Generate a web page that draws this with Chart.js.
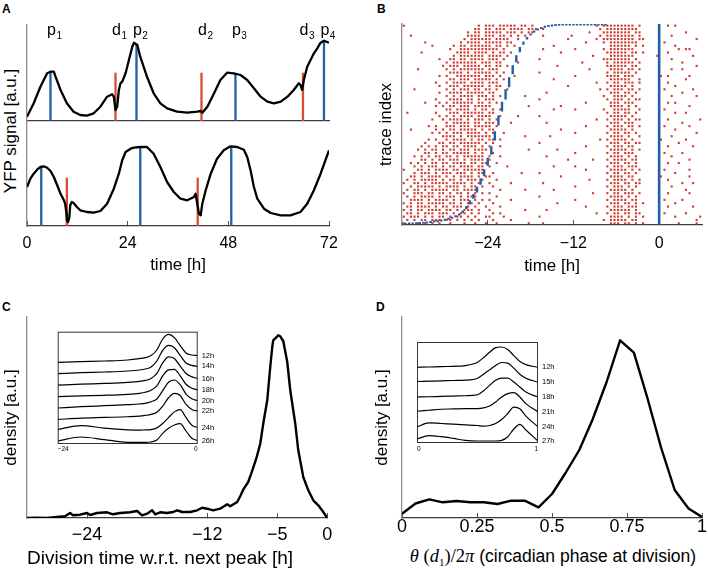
<!DOCTYPE html>
<html><head><meta charset="utf-8">
<script src="https://cdn.jsdelivr.net/npm/chart.js@4/dist/chart.umd.min.js"></script>
<style>
body{margin:0;background:#fff;width:708px;height:570px;position:relative;overflow:hidden;font-family:"Liberation Sans",Arial,sans-serif;color:#000;}
canvas{position:absolute;}
.pl{position:absolute;font-weight:bold;font-size:12px;line-height:12px;}
.vt{position:absolute;white-space:nowrap;font-size:17px;transform:translate(-50%,-50%) rotate(-90deg);}
</style></head><body>
<div class="pl" style="left:2px;top:3px">A</div>
<div class="pl" style="left:377px;top:3px">B</div>
<div class="pl" style="left:2px;top:301px">C</div>
<div class="pl" style="left:376px;top:301px">D</div>
<div class="vt" style="left:11px;top:131px">YFP signal [a.u.]</div>
<div style="position:absolute;left:553px;top:557px;transform:translate(-50%,-50%);font-size:17.5px;white-space:nowrap;"><span style="font-family:'Liberation Serif',serif;font-size:18.5px"><i>θ</i> (<i>d</i><sub style="font-size:11px">1</sub>)/2<i>π</i></span> (circadian phase at division)</div>
<script>
// ---------------- Panel A data ----------------
const aTime1 = [0,1.6,3.2,4.8,5.6,6.4,6.8,8.0,9.5,11.1,12.7,14.3,15.9,17.5,19.1,20.3,20.7,21.1,21.5,21.9,22.3,22.7,23.5,24.3,25.1,25.5,26.3,27.0,28.6,30.2,31.8,33.4,35.8,38.2,40.6,41.4,41.8,43.0,44.6,46.1,47.7,49.3,50.9,52.5,54.1,55.7,57.3,58.9,60.5,62.1,63.6,64.8,65.2,65.6,66.0,66.8,67.6,68.4,69.2,70.0,70.8,72];
const aYfp1 = [4.3,17.7,34.3,47.7,49.3,49.3,44.3,31,17.7,9.3,6,5.3,7.7,14.3,24.3,26.7,24.3,11,14.3,31,37.7,39.3,47.7,61,74.3,78.3,76,64.3,44.3,27.7,17.7,12.7,9.3,8.3,9.3,10,8.3,14.3,27.7,41,48.3,47.7,46,41,32.7,24.3,19.3,17.7,19.3,24.3,31,37.7,36,31,41,54.3,61,67.7,72.7,78.3,80.3,78.3];
const aTime2 = [0,0.8,1.6,2.4,3.2,4.0,4.8,5.6,6.4,7.2,8.0,8.8,9.1,9.4,9.5,9.8,10.1,10.3,10.7,11.1,11.9,12.7,14.3,15.9,17.5,19.1,20.7,21.9,22.7,23.5,24.7,25.5,27.0,28.6,30.2,31.8,33.4,35.0,36.6,38.2,39.8,40.2,40.6,41.0,41.4,41.8,42.6,43.8,45.3,46.9,48.5,50.1,51.7,52.5,53.3,54.1,54.9,56.5,58.1,60.5,62.8,65.2,66.8,68.4,70.0,72];
const aYfp2 = [39,47.3,52.3,56.3,59,59.7,58.3,55,49,40.7,32.3,25.7,22.3,12.3,5.7,4,9,20.7,24,23,19,15.7,14,13.3,15,22.3,37.3,52.3,65.7,74,77.3,78.3,79,79,72.3,59,44,34,27.3,25.7,29,32.3,22.3,12.3,10.7,22.3,35.7,52.3,67.3,75.7,79.7,79,76.3,69,55.7,39,27.3,17.3,13,10.7,10.7,14,22.3,35.7,52.3,75.7];
const aPeakT1 = [5.6, 26.1, 49.7, 70.8];
const aPeakV1 = [49.3, 77, 47.7, 80.3];
const aDivT1 = [21.1, 41.6, 65.8];
const aDivH1 = [48.3, 48.3, 48.3];
const aPeakT2 = [3.4, 27.0, 48.7];
const aPeakV2 = [59.3, 79, 79.7];
const aDivT2 = [9.5, 40.7];
const aDivH2 = [48.3, 48.3];
const aLabelName = ['p','d','p','d','p','d','p'];
const aLabelSub = ['1','1','2','2','3','3','4'];
const aLabelT = [5.6, 21.1, 26.1, 41.6, 49.7, 65.8, 70.8];
const aTicks = [0, 24, 48, 72];

// ---------------- Panel B data ----------------
const bTicks = [-24, -12, 0];
const bBlueT = [-36,-35.5,-35,-34.5,-34,-33.5,-33,-32.5,-32,-31.5,-31,-30.5,-30,-29.5,-29,-28.5,-28,-27.5,-27,-26.5,-26,-25.5,-25,-24.5,-24,-23.5,-23,-22.5,-22,-21.5,-21,-20.5,-20,-19.5,-19,-18.5,-18,-17.5,-17,-16.5,-16,-15.5,-15,-14.5,-14,-13.5,-13,-12.5,-12,-11.5,-11,-10.5,-10,-9.5,-9,-8.5,-8,-7.5];
const bBlueLo = [0.1,0.1,0.2,0.3,0.4,0.5,0.6,0.8,1.0,1.2,1.4,1.7,2.1,2.6,3.1,3.9,4.7,6.0,7.9,10.3,13,16.2,20,24.3,29.5,35,42,49.5,56.5,62.5,68.5,75,81,86,89.7,92.3,94.3,95.8,96.8,97.5,98.1,98.5,98.8,99,99.1,99.2,99.2,99.3,99.3,99.3,99.3,99.3,99.3,99.3,99.3,99.3,99.3,99.3];
const bBlueHi = [1.1,1.1,1.2,1.3,1.4,1.5,1.6,1.8,2.0,2.2,2.4,2.7,3.1,3.6,4.1,4.9,5.7,7.2,9.5,12.3,15.4,19,23.2,27.7,33.5,39.2,46.6,54.5,61.3,67.5,73.5,79.5,84.5,88.5,91.3,93.5,95.3,96.8,97.8,98.5,99.1,99.5,99.8,100,100,100,100,100,100,100,100,100,100,100,100,100,100,100];
// division events per trace row (top row first); 7 segments of 12 half-hour columns from -36 h
const bDivRows = [
"#...........|.........#.#|##.#####.##.|#...........|......#.####|#####.#.....|..#.#.......",
"............|........##.#|#.###.####.#|##.#........|.......#.###|######......|............",
"............|......#.##.#|####.###.#.#|#...........|....#...####|####.##.....|.......#....",
"..#.........|......####.#|##.##.#.#.#.|...#.......#|.......#.###|#####.#.....|...#........",
"............|.....#.#####|#.####..#...|..........#.|......#.####|#####.##....|..........#.",
"......#.....|....#.####.#|####.##.....|............|...#....#.##|######......|.#..........",
"........#...|..#.##.#####|#.##.#.#....|......#.....|..........##|####.#.#....|....#.......",
"............|.#..########|###.#.......|...#........|#.......#.##|#####.......|.....#.##...",
".....#......|...####.####|.#.##.#.....|........#...|.........###|###.##.#....|..#.........",
"............|..#.#######.|####.#......|............|.....#....##|#####......#|.........#..",
"..........#.|.##.##.####.|###.#.......|..#.........|........####|####.#......|...#........",
"............|#.#######.##|#.##....#...|............|..#......#.#|#####.#.....|......#.....",
"...........#|.###.#####.#|#.##.#......|.......#....|.........###|###.##......|..........#.",
"....#.......|#.#.#######.|###.........|............|....#.....##|##.##.#.....|...#..#.....",
"............|.####.#.####|#.#.#.......|..#.........|.........#.#|####.#......|............",
"..........#.|#..#######.#|##.#...#....|............|#........###|#.###.......|#.#.....#...",
"............|.##.###.####|#.#.#.......|......#.....|..........##|####..#.....|.......#....",
".........#..|#.####.####.|###.........|............|......#..#.#|#.###.#.....|..#.........",
"..........#.|.###.######.|#.##........|..........#.|..........##|###.#.......|....#.......",
"...#........|#.#.###.##.#|#.#..#......|............|.......#.#.#|##.##.#.....|.#.......#..",
"..........#.|.####.#####.|##..........|....#.......|..........##|#.##.#......|......#.....",
"............|#.#.####.###|.#.#......#.|............|........#..#|###.#.......|...#......#.",
".........#..|.####.##.#.#|##..........|..#.........|.........#.#|##.#.##.....|............",
"......#...#.|#.######.##.|#.#.........|............|...#......##|#.###.......|..#.#.......",
".........#.#|.##.###.####|#..........#|........#...|..........##|##.#.#......|........#...",
"............|##.####.#.##|.#.#........|......#.....|#.......#..#|####..#.....|.#..........",
".#.......#..|.###.######.|##..........|............|.........#.#|#.##.#......|....#..#....",
"..........#.|#.#.####.###|#..#....#...|..#.........|..........##|###.#.......|............",
"........#..#|.####.#.###.|#.#.........|............|......#..#.#|##.#.##.....|..#........#",
"............|#.#####.##.#|##....#.....|....#.......|..........##|#.###.......|......#.....",
".......#.#..|###.###.####|#.#.........|............|...#.....#.#|##.##.#.....|.#......#...",
"..#......#.#|.##.#####.#.|##..........|........#...|..........##|###.#.......|....#.......",
"........#.#.|#.###.####.#|.#..#.......|............|#........#.#|#.##.#......|..........#.",
"...........#|###.#.######|#.........#.|.....#......|..........##|##.#..#.....|...#........",
".......#.#..|#.####.#.##.|##.#........|............|.......#.#.#|###.#.......|#......#....",
"......#...##|.##.######.#|.#..........|..#.........|..........##|#.##.##.....|.....#......",
".....#.#.#.#|#.##.####.#.|#..#........|............|...#.....#.#|##.##.......|..#......#..",
"....#.#.##.#|.##.###.####|...........#|.......#....|..........##|###.#.#.....|............",
"......##.#.#|#.#####.#.#.|.#..........|............|#........#.#|#.###.......|.#....#.....",
"...#.#.#.##.|##.#.######.|#..#........|....#.......|..........##|##.#.#......|...#........",
".....##.#.##|.###.#.####.|#...........|..........#.|.....#...#.#|###.##......|........#...",
"..#.#.#.##.#|#.####.##.##|..#.........|............|..........##|#.##.#......|..#..#......",
"...#.#.###.#|.##.####.##.|#....#......|......#.....|#........#.#|##.###......|............",
"#...##.#.###|#.##.######.|............|............|...#......##|###.#.#.....|.#......#...",
"...#.###.#.#|##.###.#.##.|.#.......#..|..#.........|.........#.#|#.##.#......|....#.......",
"..##.#.####.|#.#.####.#.#|#...........|........#...|..........##|##.##.......|#.......#...",
".#.#.#####.#|.##.#.###.#.|..#.........|............|....#....#.#|###.#.#.....|..#.........",
"#..##.#.####|#.####.#.#..|#.....#.....|...#........|..........##|#.##.##.....|......#..#..",
"..#.#####.#.|####.#.##.#.|.#..........|............|#........#.#|##.#.#......|...#........",
".#.##.#.####|#.##.####...|...#......#.|......#.....|..........##|###.#.......|.......#....",
"#..###.##.##|.#.##.#.#.#.|#...........|............|.....#...#.#|#.###.#.....|..#.....#...",
".#.#.####.#.|###.#.###...|..#.........|..#.........|..........##|##.#.#......|............",
"..####.#.###|#.#.###.#.#.|#.....#.....|............|#........#.#|###.##......|.#....#.....",
"#.#.##.#####|.##.#.##.#..|.#..........|.......#....|..........##|#.##.#.#....|....#.......",
".##.####.#.#|#.###.#.#..#|...#........|............|...#.....#.#|##.###......|..#......#..",
"#.#.##.####.|##.#.###.#..|#.........#.|....#.......|..........##|####.#......|............",
".##.#.###.##|#.#.##.#.#..|.#.#........|............|......#..#.#|#.##.##.....|.#.....#....",
"#.###.#.#.##|.#.##.#.#..#|#...#.......|..#.........|..........##|##.#.#.#....|....#......#",
".#.#.##.###.|##.#.#.#.#..|.#....#.....|............|........#.##|###.##......|..........#.",
"#...#.#.#.#.|.#...#..#..#|..#........#|...#........|..........##|#.##.#.#....|.....#....#."
];

// ---------------- Panel C data ----------------
const cTicks = [-24, -12, -5, 0];
const cT = [-30,-29,-28,-27,-26.2,-25.7,-25.4,-24.7,-24,-23.7,-23,-22,-21.4,-20.7,-19.7,-19,-18.5,-18,-17.5,-17.2,-16.7,-16,-15.4,-15,-14.5,-13.7,-13,-12.5,-12,-11.4,-10.7,-10,-9.7,-9,-8.7,-8.4,-7.9,-7.6,-7.1,-6.7,-6.4,-6,-5.7,-5.5,-5.4,-4.9,-4.7,-4.4,-4,-3.7,-3.2,-2.9,-2.4,-1.9,-1.4,-0.9,-0.4,0];
const cDensity = [0,0.3,0,1,1.7,5,2.7,3.3,5,3,5,5.7,3.7,5,5.7,7,2.7,4.3,7.7,3.7,5.7,5,6,7.7,6,6,7.7,10.3,9.3,7.7,9.3,13.7,11.7,16,21.7,28.3,36,44.3,59.3,74.3,94.3,117.7,151,171,177.7,182.7,181.7,177,156,127.7,94.3,67.7,41,27.7,17.7,12.7,6,0];
const cInsetT = [-24,-20,-16,-12,-10,-9,-8,-7,-6,-5,-4,-3,-2,-1,0];
const cInsetLabels = ['12h','14h','16h','18h','20h','22h','24h','26h'];
const cIn12 = [0,0.7,1.3,2.3,3.7,4.7,6.7,12.3,23.3,28,24.7,16.7,9.3,7.3,6.7];
const cIn14 = [0,1,1.7,2.7,3.7,4.7,6.7,12.7,23.3,28.3,26,18.3,10.7,8.3,7.3];
const cIn16 = [0,1,1.7,2.7,3.7,4.7,6.7,11.7,22.3,28.3,26.7,19,11.7,8.3,6.7];
const cIn18 = [0,0.7,1.3,2.3,3.3,4.3,6.3,10.7,20.7,26.7,27.3,20.7,12.3,8.3,6.7];
const cIn20 = [0,1.3,2.3,3.3,4,4.7,6.3,9,17.3,25.7,28,23.3,14,9.3,7.3];
const cIn22 = [0,1.3,2,2.7,3.3,4,5,7.3,13.3,21.7,26,24,15,10,8.3];
const cIn24 = [1.3,5.3,2.7,1,0.7,1,1.3,3,7.3,13.3,19,21.3,13.3,5.7,3.3];
const cIn26 = [1.3,5.3,2.7,0,0,0,0.3,2.3,9,14,17.3,18.7,11.3,4,1.7];

// ---------------- Panel D data ----------------
const dTicks = [0, 0.25, 0.5, 0.75, 1];
const dPhase = [0,0.045,0.091,0.136,0.182,0.227,0.273,0.318,0.364,0.409,0.455,0.5,0.545,0.591,0.636,0.682,0.727,0.773,0.818,0.864,0.909,0.955,1];
const dDensity = [4.3,14.5,18.7,15.7,17,15.7,15.7,14,17.3,17.3,10.7,24,45,68,99,136,177.7,165.3,120,70,28,9.5,1];
const dInsetP = [0,0.1,0.2,0.3,0.4,0.5,0.55,0.6,0.65,0.7,0.75,0.8,0.85,0.9,1];
const dInsetLabels = ['12h','15h','18h','21h','24h','27h'];
const dIn12 = [0,0.3,0.7,1,1.7,5,9.7,15,19.7,20.3,17.7,11.7,5.7,2.7,0];
const dIn15 = [0.7,1,1.3,1.7,2,4,8,12.3,16.7,19.7,19,14,8,4,0];
const dIn18 = [0,0.3,0.7,1,1.3,2.3,6.3,11.7,16.7,19,19,15,10,5,0];
const dIn21 = [0.7,1.7,2.7,3,3.3,3.3,4,6,10,15,18.3,19.3,15,8.3,0];
const dIn24 = [0,4,3.3,2.7,2,1.3,0.7,1.3,3.3,7.3,13.3,19.7,18,10.7,0];
const dIn27 = [2.7,6,5,3.3,1.3,0.7,0.7,0.7,0.7,1.3,5,12.7,17.3,11.7,0.7];

// ---------------- helpers ----------------
const FONT = '"Liberation Sans", Arial, sans-serif';
const BLUE = '#1f5ea8', RED = '#dc4a33', DOTRED = '#cf3d30';
Chart.defaults.font.family = FONT;
Chart.defaults.color = '#000';
Chart.defaults.animation = false;
Chart.defaults.responsive = false;
Chart.defaults.devicePixelRatio = 1;
Chart.defaults.plugins.legend.display = false;
Chart.defaults.plugins.tooltip.enabled = false;
Chart.defaults.elements.point.radius = 0;

const zip = (xs, ys) => xs.map((x, i) => ({x, y: ys[i]}));
const fmt = v => v < 0 ? '\u2212' + Math.abs(v) : String(v);

function makeChart(box, area, xh, yw, config) {
  const [cx, cy, cw, ch] = box;
  const cv = document.createElement('canvas');
  cv.width = cw; cv.height = ch;
  Object.assign(cv.style, {left: cx + 'px', top: cy + 'px', width: cw + 'px', height: ch + 'px'});
  document.body.appendChild(cv);
  config.options.layout = {padding: {left: area[0] - cx - yw, top: area[1] - cy, right: cx + cw - area[2], bottom: cy + ch - area[3] - xh}};
  config.options.scales.x.afterFit = s => { s.height = xh; s.paddingLeft = 0; s.paddingRight = 0; };
  config.options.scales.y.afterFit = s => { s.width = yw; s.paddingTop = 0; s.paddingBottom = 0; };
  return new Chart(cv, config);
}
function xAxis(min, max, ticks, tickPad, title, tsize, tickSize, titleAlign) {
  return {
    type: 'linear', min, max,
    afterBuildTicks: s => { s.ticks = ticks.map(v => ({value: v})); },
    ticks: {display: ticks.length > 0, font: {size: tickSize || 16}, padding: tickPad, callback: v => fmt(v), maxRotation: 0, autoSkip: false, color: '#000'},
    grid: {display: ticks.length > 0, drawOnChartArea: false, drawTicks: true, tickLength: -5, color: '#555', lineWidth: 1},
    border: {display: true, color: '#3c3c3c', width: 1.3},
    title: title ? {display: true, text: title, align: titleAlign || 'center', font: {size: tsize || 17}, padding: {top: 0, bottom: 0}, color: '#000'} : {display: false}
  };
}
function yAxis(min, max, title, padTop, tsize) {
  return {
    type: 'linear', min, max,
    ticks: {display: false},
    grid: {display: false},
    border: {display: true, color: '#8c8c8c', width: 1.3},
    title: title ? {display: true, text: title, font: {size: tsize || 17}, padding: {top: padTop, bottom: 0}, color: '#000'} : {display: false}
  };
}
const curve = (xs, ys, w) => ({data: zip(xs, ys), showLine: true, borderColor: '#000', borderWidth: w || 2.3, pointRadius: 0, order: 0, borderJoinStyle: 'round'});
const vline = (t, v, color) => ({data: [{x: t, y: 0}, {x: t, y: v}], showLine: true, borderColor: color, borderWidth: 2.3, pointRadius: 0, order: 1, borderCapStyle: 'butt'});

const eventLabels = {
  id: 'eventLabels',
  afterDatasetsDraw(chart) {
    const ctx = chart.ctx, xs = chart.scales.x;
    ctx.save();
    ctx.fillStyle = '#000'; ctx.textAlign = 'left'; ctx.textBaseline = 'alphabetic';
    aLabelName.forEach((n, i) => {
      const x = xs.getPixelForValue(aLabelT[i]) - 3.5;
      ctx.font = '16px ' + FONT;
      ctx.fillText(n, x, 35);
      const w = ctx.measureText(n).width;
      ctx.font = '10px ' + FONT;
      ctx.fillText(aLabelSub[i], x + w + 0.5, 38.5);
    });
    ctx.restore();
  }
};
const insetFrame = {
  id: 'insetFrame',
  afterDatasetsDraw(chart) {
    const {ctx, chartArea: a} = chart;
    ctx.save();
    ctx.strokeStyle = '#333'; ctx.lineWidth = 1;
    ctx.strokeRect(a.left + 0.5, a.top + 0.5, a.right - a.left - 1, a.bottom - a.top - 1);
    ctx.font = '7.5px ' + FONT; ctx.fillStyle = '#000'; ctx.textBaseline = 'middle'; ctx.textAlign = 'left';
    chart.data.datasets.forEach((ds, i) => {
      const pts = chart.getDatasetMeta(i).data;
      ctx.fillText(ds.label, a.right + 4, pts[pts.length - 1].y);
    });
    ctx.restore();
  }
};
function insetAxis(min, max, ticks, pad) {
  return {
    type: 'linear', min, max,
    afterBuildTicks: s => { s.ticks = ticks.map(v => ({value: v})); },
    ticks: {font: {size: 6.5}, padding: pad, align: 'inner', callback: v => fmt(v), maxRotation: 0, autoSkip: false, color: '#000'},
    grid: {display: false, drawTicks: false},
    border: {display: false}
  };
}
const insetY = (max) => ({type: 'linear', min: 0, max, ticks: {display: false}, grid: {display: false}, border: {display: false}});

// ---------------- Panel A ----------------
makeChart([0, 0, 345, 123], [27, 25, 329, 121], 0, 27, {
  type: 'scatter',
  data: {datasets: [
    curve(aTime1, aYfp1),
    ...aPeakT1.map((t, i) => vline(t, aPeakV1[i], BLUE)),
    ...aDivT1.map((t, i) => vline(t, aDivH1[i], RED))
  ]},
  options: {scales: {x: xAxis(0, 72, [], 0), y: yAxis(0, 96)}},
  plugins: [eventLabels]
});
makeChart([0, 119, 345, 170], [27, 121, 329, 226], 49.2, 27, {
  type: 'scatter',
  data: {datasets: [
    curve(aTime2, aYfp2),
    ...aPeakT2.map((t, i) => vline(t, aPeakV2[i], BLUE)),
    ...aDivT2.map((t, i) => vline(t, aDivH2[i], RED))
  ]},
  options: {scales: {x: xAxis(0, 72, aTicks, 12.7, 'time [h]'), y: yAxis(0, 105)}}
});

// ---------------- Panel B ----------------
const bDots = [];
const nRows = bDivRows.length;
bDivRows.forEach((row, i) => {
  const r = nRows - 1 - i;
  row.split('|').forEach((seg, j) => {
    for (let k = 0; k < seg.length; k++) {
      if (seg[k] === '#') bDots.push({x: -36 + 0.5 * (12 * j + k) + 0.25, y: (r + 0.5) * 100 / nRows});
    }
  });
});
const bBlue = [];
bBlueT.forEach((t, i) => { bBlue.push({x: t, y: bBlueLo[i]}, {x: t, y: bBlueHi[i]}, {x: t, y: null}); });
makeChart([354, 0, 354, 290], [402, 24, 702, 225], 51.9, 48, {
  type: 'scatter',
  data: {datasets: [
    {data: bBlue, showLine: true, spanGaps: false, borderColor: BLUE, borderWidth: 2.4, borderCapStyle: 'butt', pointRadius: 0, order: 0},
    {data: [{x: 0, y: 0}, {x: 0, y: 100}], showLine: true, borderColor: BLUE, borderWidth: 2.6, pointRadius: 0, order: 0},
    {data: bDots, showLine: false, pointStyle: 'rect', pointRadius: 1.5, pointBorderWidth: 0, pointBackgroundColor: DOTRED, backgroundColor: DOTRED, borderWidth: 0, order: 2}
  ]},
  options: {scales: {x: xAxis(-36, 6, bTicks, 13.7, 'time [h]'), y: yAxis(0, 100, 'trace index', 21.8)}}
});

// ---------------- Panel C ----------------
makeChart([0, 295, 354, 275], [27, 317, 327.3, 518], 51.7, 27, {
  type: 'scatter',
  data: {datasets: [curve(cT, cDensity, 2.4)]},
  options: {scales: {x: xAxis(-30, 0, cTicks, 11.2, 'Division time w.r.t. next peak [h]', 19, 18, 'start'), y: yAxis(0, 201, 'density [a.u.]', 0.8)}}
});
const cInsetSeries = [cIn12, cIn14, cIn16, cIn18, cIn20, cIn22, cIn24, cIn26];
makeChart([45, 320, 185, 140], [57.7, 331.7, 197.7, 444], 12, 12.7, {
  type: 'scatter',
  data: {datasets: cInsetSeries.map((s, k) => ({
    label: cInsetLabels[k],
    data: zip(cInsetT, s.map(v => v + 1.7 + (cInsetSeries.length - 1 - k) * 11.43)),
    showLine: true, borderColor: '#000', borderWidth: 1.2, pointRadius: 0, cubicInterpolationMode: 'monotone'
  }))},
  options: {scales: {x: insetAxis(-24, 0, [-24, 0], 1.6), y: insetY(112.3)}},
  plugins: [insetFrame]
});

// ---------------- Panel D ----------------
makeChart([354, 295, 354, 275], [402, 317, 702, 518], 30, 48, {
  type: 'scatter',
  data: {datasets: [curve(dPhase, dDensity, 2.4)]},
  options: {scales: {x: xAxis(0, 1, dTicks, 2.9, null, 17, 18), y: yAxis(0, 201, 'density [a.u.]', 17.8)}}
});
const dInsetSeries = [dIn12, dIn15, dIn18, dIn21, dIn24, dIn27];
makeChart([405, 335, 160, 120], [417, 342, 538, 443], 12, 12, {
  type: 'scatter',
  data: {datasets: dInsetSeries.map((s, k) => ({
    label: dInsetLabels[k],
    data: zip(dInsetP, s.map(v => v + 1.3 + (dInsetSeries.length - 1 - k) * 14.88)),
    showLine: true, borderColor: '#000', borderWidth: 1.2, pointRadius: 0, cubicInterpolationMode: 'monotone'
  }))},
  options: {scales: {x: insetAxis(0, 1, [0, 1], 2.6), y: insetY(101)}},
  plugins: [insetFrame]
});
</script>
</body></html>
